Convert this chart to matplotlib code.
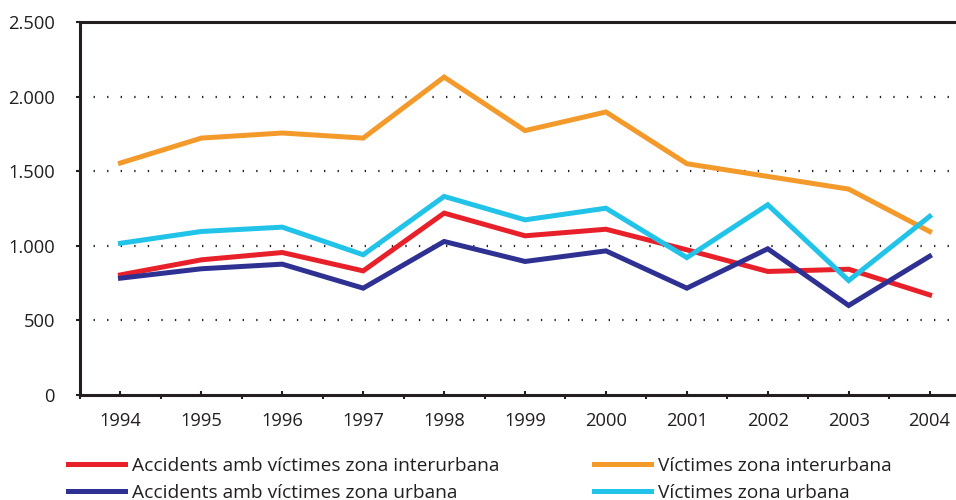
import numpy as np
from matplotlib import pyplot as plt
from matplotlib.ticker import FuncFormatter, FixedLocator

plt.rcParams['font.family'] = ['Open Sans', 'DejaVu Sans']

# dades
anys = ['1994', '1995', '1996', '1997', '1998', '1999', '2000', '2001', '2002', '2003', '2004']
acc_interurbana = [805, 906, 955, 832, 1219, 1067, 1111, 973, 828, 843, 671]
vic_interurbana = [1555, 1722, 1756, 1722, 2131, 1772, 1897, 1550, 1465, 1380, 1096]
acc_urbana = [783, 846, 877, 716, 1029, 895, 966, 716, 980, 600, 930]
vic_urbana = [1017, 1096, 1125, 940, 1331, 1174, 1252, 921, 1275, 767, 1197]

etiquetes = ['Accidents amb víctimes zona interurbana',
             'Víctimes zona interurbana',
             'Accidents amb víctimes zona urbana',
             'Víctimes zona urbana']
colors = ['#E8202A', '#F39A2B', '#2E3192', '#22C3E8']
negre = '#231F20'

fig = plt.figure(figsize=(9.56, 5.0), dpi=100)
ax = fig.add_axes([0.0837, 0.21, 0.931, 0.746])

x = np.arange(len(anys))
series = [acc_interurbana, vic_interurbana, acc_urbana, vic_urbana]
linies = []
for s, c, lab in zip(series, colors, etiquetes):
    l, = ax.plot(x, s, color=c, lw=3.6, label=lab, solid_joinstyle='miter')
    linies.append(l)

ax.set_xlim(-0.5, len(anys) - 0.5)
ax.set_ylim(0, 2500)

# eix y
ax.set_yticks([0, 500, 1000, 1500, 2000, 2500])
ax.yaxis.set_major_formatter(FuncFormatter(lambda v, p: '{:,.0f}'.format(v).replace(',', '.')))
ax.tick_params(axis='y', direction='out', length=3, width=1.5, pad=15, labelsize=13.2, colors=negre)
for v in [500, 1000, 1500, 2000]:
    ax.axhline(v, color=negre, lw=1.6, ls=(0, (0.6, 5.5)), zorder=0)

# eix x: etiquetes al centre, marques als límits
ax.xaxis.set_major_locator(FixedLocator(np.arange(-0.5, len(anys), 1.0)))
ax.xaxis.set_minor_locator(FixedLocator(x))
ax.set_xticklabels([])
ax.set_xticks(x, anys, minor=True)
ax.tick_params(axis='x', which='major', direction='out', length=3, width=1.5, colors=negre)
ax.tick_params(axis='x', which='minor', direction='in', length=3, width=1.5, pad=12, labelsize=13.2, colors=negre)

for sp in ['left', 'bottom', 'top']:
    ax.spines[sp].set_linewidth(2.2)
    ax.spines[sp].set_color(negre)
ax.spines['right'].set_visible(False)

# llegenda en dues columnes
opts = dict(loc='upper left', frameon=False, fontsize=13.8, handlelength=2.95,
            handletextpad=0.38, labelspacing=0.45, borderaxespad=0, borderpad=0,
            labelcolor=negre)
fig.legend([linies[0], linies[2]], [etiquetes[0], etiquetes[2]],
           bbox_to_anchor=(0.0711, 0.086), **opts)
fig.legend([linies[1], linies[3]], [etiquetes[1], etiquetes[3]],
           bbox_to_anchor=(0.6215, 0.086), **opts)

fig.savefig('out.png', dpi=100)
